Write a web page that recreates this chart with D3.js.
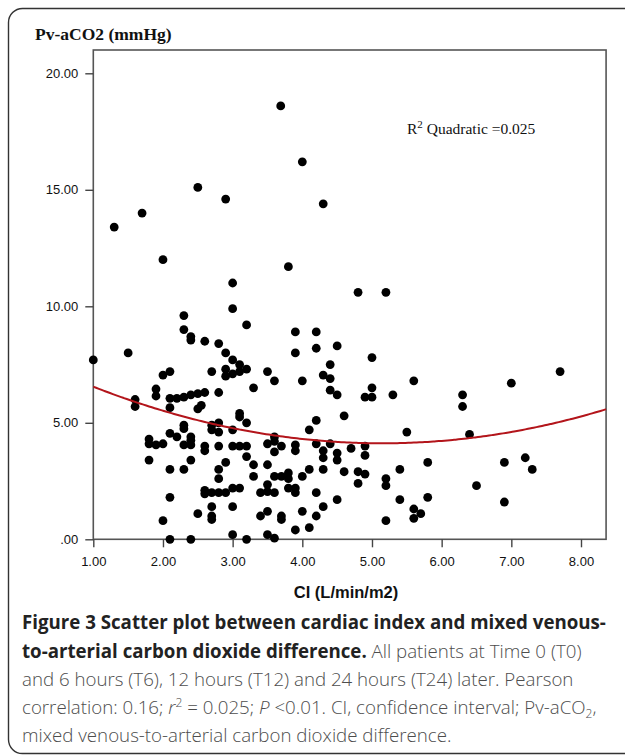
<!DOCTYPE html>
<html>
<head>
<meta charset="utf-8">
<script src="https://cdnjs.cloudflare.com/ajax/libs/d3/7.8.5/d3.min.js"></script>
<style>
  body { margin: 0; background: #fff; }
  svg { display: block; }
  .tick text { font-family: "Liberation Sans", Arial, sans-serif; font-size: 13px; fill: #111; }
  .tick line { stroke: #444; stroke-width: 1.4; }
</style>
</head>
<body>
<div class="chart"></div>
<script>
// CI (L/min/m2) and Pv-aCO2 (mmHg)
var ci = [
  3.69, 4.00, 2.50, 2.90, 4.30, 1.70, 1.30, 2.00, 3.80, 3.00, 4.80, 5.20,
  3.00, 2.30, 3.20, 2.30, 2.40, 2.40, 3.90, 2.60, 2.80, 2.90,
  3.90, 1.50, 1.00, 3.00, 3.10, 3.20, 2.90, 3.00, 3.10, 2.90,
  2.70, 3.50, 3.60, 3.30, 2.00, 2.10, 1.90, 1.90, 2.80, 1.60,
  1.60, 2.10, 2.20, 2.30, 2.40, 2.50, 2.60, 2.10, 2.50, 2.55,
  3.10, 3.10, 3.20, 2.70, 2.80, 2.80, 2.70, 3.00, 2.30, 2.30,
  2.10, 2.20, 2.40, 2.40, 2.30, 2.40, 1.80, 1.80, 1.90, 2.00,
  1.80, 2.60, 2.60, 2.80, 3.00, 3.10, 3.20, 3.50, 3.60, 3.60,
  3.70, 3.60, 3.90, 3.90, 3.20, 3.30, 2.90, 2.80, 2.80, 2.40,
  2.10, 2.30, 3.50, 3.30, 3.60, 3.70, 3.80, 3.80, 3.90, 3.50,
  3.50, 2.60, 2.70, 2.80, 2.90, 3.00, 3.10, 2.60, 3.40, 3.60,
  3.80, 3.90, 2.10, 2.70, 2.70, 2.70, 3.00, 2.50, 3.40, 3.50,
  3.70, 3.70, 2.00, 3.90, 3.00, 3.50, 3.60, 2.10, 2.40, 3.20,
  4.20, 4.20, 4.50, 5.00, 4.40, 4.30, 4.40, 4.00, 5.60, 4.40,
  4.50, 4.90, 5.00, 5.00, 5.30, 6.30, 6.30, 7.00, 7.70, 4.60,
  4.20, 4.10, 5.50, 6.40, 4.20, 4.40, 4.70, 4.90, 4.30, 4.30,
  4.50, 4.50, 4.90, 5.80, 6.90, 7.20, 7.30, 4.10, 4.30, 4.60,
  4.80, 4.90, 4.00, 5.20, 5.20, 4.80, 5.40, 6.50, 4.20, 4.50,
  5.40, 5.80, 6.90, 4.00, 4.30, 4.20, 5.60, 5.60, 5.70, 5.20,
  4.10
];
var pvaco2 = [
  18.6, 16.2, 15.1, 14.6, 14.4, 14.0, 13.4, 12.0, 11.7, 11.0, 10.6, 10.6,
  9.90, 9.60, 9.20, 9.00, 8.70, 8.55, 8.90, 8.50, 8.40, 8.00,
  8.00, 8.00, 7.70, 7.70, 7.50, 7.30, 7.30, 7.10, 7.20, 7.00,
  7.20, 7.20, 6.80, 6.50, 7.05, 7.20, 6.45, 6.15, 6.30, 6.00,
  5.70, 6.05, 6.05, 6.10, 6.20, 6.25, 6.30, 5.65, 5.60, 5.75,
  5.40, 5.25, 5.00, 4.90, 5.00, 4.60, 4.70, 4.70, 4.75, 4.90,
  4.55, 4.40, 4.40, 4.25, 4.05, 4.05, 4.30, 4.10, 4.05, 4.10,
  3.40, 4.00, 3.80, 4.00, 4.00, 4.00, 4.00, 4.10, 4.40, 4.20,
  4.00, 3.75, 4.05, 3.80, 3.55, 3.20, 3.30, 3.00, 2.60, 3.40,
  3.00, 3.00, 3.20, 2.70, 2.70, 2.70, 2.85, 2.60, 2.20, 2.35,
  2.05, 2.10, 2.00, 2.00, 2.00, 2.20, 2.20, 1.95, 2.00, 2.00,
  2.20, 2.00, 1.80, 1.40, 1.00, 0.85, 1.40, 1.10, 1.00, 1.20,
  1.00, 0.85, 0.80, 0.40, 0.20, 0.20, 0.05, 0.00, 0.00, 0.00,
  8.90, 8.20, 8.30, 7.80, 7.50, 7.05, 6.90, 6.80, 6.80, 6.40,
  6.20, 6.10, 6.50, 6.10, 6.20, 6.20, 5.70, 6.70, 7.20, 5.30,
  5.10, 4.70, 4.60, 4.50, 4.10, 4.10, 3.90, 4.00, 3.80, 3.50,
  3.70, 3.40, 3.60, 3.30, 3.30, 3.50, 3.00, 3.00, 3.00, 2.90,
  2.90, 2.80, 2.70, 2.60, 2.30, 2.40, 3.00, 2.30, 2.00, 1.70,
  1.70, 1.80, 1.60, 1.20, 1.40, 1.00, 1.30, 0.90, 1.10, 0.80,
  0.50
];

var xTicks = [1, 2, 3, 4, 5, 6, 7, 8];
var xTickLabels = ["1.00", "2.00", "3.00", "4.00", "5.00", "6.00", "7.00", "8.00"];
var yTicks = [0, 5, 10, 15, 20];
var yTickLabels = [".00", "5.00", "10.00", "15.00", "20.00"];

// quadratic fit y = a*x^2 + b*x + c, as drawn in the figure
var fitA = 0.1414, fitB = -1.455, fitC = 7.863;
var fitR2 = "0.025";

var svgWidth = 625;
var svgHeight = 756;

var svg = d3.select(".chart")
  .append("svg")
  .attr("width", svgWidth)
  .attr("height", svgHeight);

// outer rounded box of the figure
svg.append("rect")
  .attr("x", 8.5)
  .attr("y", 8.5)
  .attr("width", 660)
  .attr("height", 745)
  .attr("rx", 14)
  .attr("fill", "none")
  .attr("stroke", "#333")
  .attr("stroke-width", 1.4);

var xScale = d3.scaleLinear().domain([1, 8]).range([93.3, 581]);
var yScale = d3.scaleLinear().domain([0, 20]).range([539.3, 73.3]);

var xMax = 8.36, yMax = 21.0;

var chart = svg.append("g");

// plot frame
chart.append("rect")
  .attr("x", xScale(1))
  .attr("y", yScale(yMax))
  .attr("width", xScale(xMax) - xScale(1))
  .attr("height", yScale(0) - yScale(yMax))
  .attr("fill", "none")
  .attr("stroke", "#555")
  .attr("stroke-width", 1.6);

var bottomAxis = d3.axisBottom(xScale)
  .tickValues(xTicks)
  .tickSize(8)
  .tickPadding(9)
  .tickFormat(function(d, i) { return xTickLabels[i]; });

var leftAxis = d3.axisLeft(yScale)
  .tickValues(yTicks)
  .tickSize(8)
  .tickPadding(7)
  .tickFormat(function(d, i) { return yTickLabels[i]; });

chart.append("g")
  .attr("transform", "translate(0," + yScale(0) + ")")
  .call(bottomAxis)
  .call(function(g) { g.select(".domain").remove(); });

chart.append("g")
  .attr("transform", "translate(" + xScale(1) + ",0)")
  .call(leftAxis)
  .call(function(g) { g.select(".domain").remove(); });

// points
chart.selectAll("circle")
  .data(ci)
  .enter().append("circle")
    .attr("cx", function(d) { return xScale(d); })
    .attr("cy", function(d, i) { return yScale(pvaco2[i]); })
    .attr("r", 4.4)
    .attr("fill", "#000");

// quadratic fit line
var fitX = d3.range(1, xMax + 0.001, 0.04);
var line = d3.line()
  .x(function(d) { return xScale(d); })
  .y(function(d) { return yScale(fitA * d * d + fitB * d + fitC); })
  .curve(d3.curveBasis);

chart.append("path")
  .datum(fitX)
  .attr("d", line)
  .attr("fill", "none")
  .attr("stroke", "#b3151b")
  .attr("stroke-width", 2);

// titles
svg.append("text")
  .attr("x", 35)
  .attr("y", 40)
  .attr("font-family", "Liberation Serif, serif")
  .attr("font-weight", "bold")
  .attr("font-size", "17.5px")
  .attr("fill", "#111")
  .text("Pv-aCO2 (mmHg)");

var r2 = svg.append("text")
  .attr("x", 407)
  .attr("y", 134)
  .attr("font-family", "Liberation Serif, serif")
  .attr("font-size", "15.5px")
  .attr("fill", "#111");
r2.append("tspan").text("R");
r2.append("tspan").attr("dy", -6).attr("font-size", "11px").text("2");
r2.append("tspan").attr("dy", 6).text(" Quadratic =" + fitR2);

svg.append("text")
  .attr("x", 346)
  .attr("y", 598)
  .attr("text-anchor", "middle")
  .attr("font-family", "Liberation Sans, Arial, sans-serif")
  .attr("font-weight", "bold")
  .attr("font-size", "16.5px")
  .attr("fill", "#111")
  .text("CI (L/min/m2)");

// caption
var capX = 22;
var capFont = "Open Sans, sans-serif";
var capSize = "18.7px";

function capLine(y) {
  return svg.append("text")
    .attr("x", capX)
    .attr("y", y)
    .attr("font-family", capFont)
    .attr("font-size", capSize)
    .attr("font-weight", 300)
    .attr("fill", "#4d4d4d");
}

var l1 = capLine(629);
l1.append("tspan").attr("font-weight", "bold").attr("fill", "#222")
  .text("Figure 3 Scatter plot between cardiac index and mixed venous-");

var l2 = capLine(658);
l2.append("tspan").attr("font-weight", "bold").attr("fill", "#222")
  .text("to-arterial carbon dioxide difference.");
l2.append("tspan").text(" All patients at Time 0 (T0)");

capLine(686).text("and 6 hours (T6), 12 hours (T12) and 24 hours (T24) later. Pearson");

var l4 = capLine(714);
l4.append("tspan").text("correlation: 0.16; ");
l4.append("tspan").attr("font-style", "italic").text("r");
l4.append("tspan").attr("dy", -7).attr("font-size", "12px").text("2");
l4.append("tspan").attr("dy", 7).text(" = 0.025; ");
l4.append("tspan").attr("font-style", "italic").text("P");
l4.append("tspan").text(" <0.01. CI, confidence interval; Pv-aCO");
l4.append("tspan").attr("dy", 4).attr("font-size", "12px").text("2");
l4.append("tspan").attr("dy", -4).text(",");

capLine(742).text("mixed venous-to-arterial carbon dioxide difference.");
</script>
</body>
</html>
